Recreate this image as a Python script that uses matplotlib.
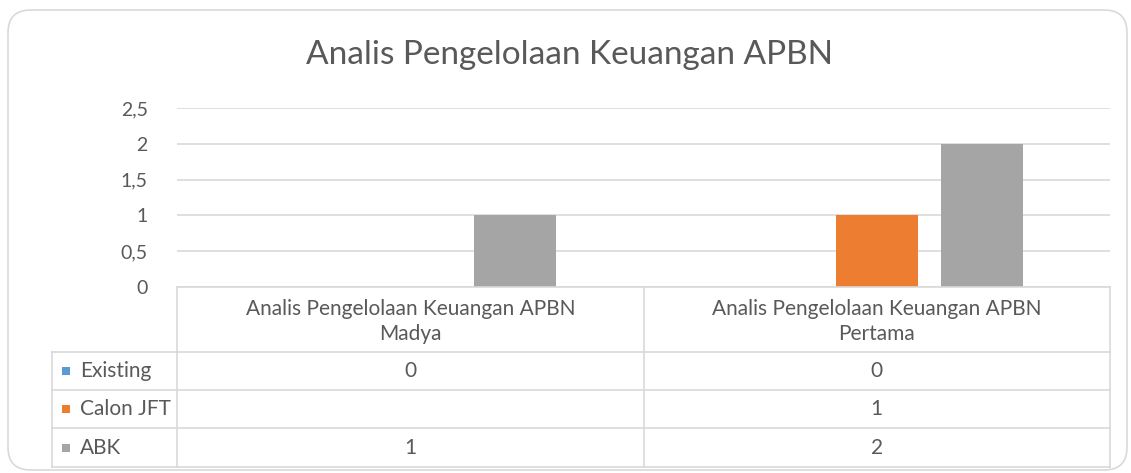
import numpy as np
import matplotlib.pyplot as plt
from matplotlib.patches import FancyBboxPatch, Rectangle
from matplotlib.transforms import blended_transform_factory

plt.rcParams['font.family'] = ['Lato', 'DejaVu Sans']

# data
categories = ['Analis Pengelolaan Keuangan APBN\nMadya',
              'Analis Pengelolaan Keuangan APBN\nPertama']
series = ['Existing', 'Calon JFT', 'ABK']
existing = [0, 0]
calon_jft = [np.nan, 1]
abk = [1, 2]
values = [existing, calon_jft, abk]
colors = ['#5B9BD5', '#ED7D31', '#A5A5A5']

txt = '#595959'
grid = '#D9D9D9'
fs = 15

W, H = 1131, 473
fig = plt.figure(figsize=(W / 100, H / 100), dpi=100)

# outer rounded border
fig.patches.append(FancyBboxPatch((8 / W, 3 / H), 1119 / W, 460 / H,
                                  boxstyle='round,pad=0,rounding_size=0.02',
                                  transform=fig.transFigure, fc='none',
                                  ec=grid, lw=1.2, mutation_aspect=W / H,
                                  zorder=-1))

ax = fig.add_axes([177 / W, 1 - 287 / H, 933 / W, 179 / H])
ax.patch.set_alpha(0)
x = np.arange(len(categories))
bw = 0.176
step = 0.225
for i, (name, vals, col) in enumerate(zip(series, values, colors)):
    ax.bar(x + (i - 1) * step, vals, bw, color=col, zorder=3)

ax.set_xlim(-0.5, len(categories) - 0.5)
ax.set_ylim(0, 2.5)
ax.set_yticks([0, 0.5, 1, 1.5, 2, 2.5])
ax.set_yticklabels(['0', '0,5', '1', '1,5', '2', '2,5'])
ax.tick_params(axis='y', length=0, pad=21, labelsize=14, labelcolor=txt)
ax.set_xticks([])
ax.grid(axis='y', color=grid, lw=1.2, zorder=0)
for s in ax.spines.values():
    s.set_visible(False)

fig.text(570 / W, 1 - 55 / H, 'Analis Pengelolaan Keuangan APBN',
         ha='center', va='center', fontsize=24, color=txt)

# data table below the axis
tr = blended_transform_factory(ax.transData, fig.transFigure)
fy = lambda py: 1 - py / H
top, head_bot = 287, 352
row_lines = [352, 390, 428, 467]
x0, x1 = -0.5, len(categories) - 0.5
xl = -0.5 - 125 / 466  # left edge of label column

def hline(xa, xb, py):
    fig.add_artist(plt.Line2D([xa, xb], [fy(py), fy(py)], transform=tr,
                              color=grid, lw=1.2))

def vline(xv, pa, pb):
    fig.add_artist(plt.Line2D([xv, xv], [fy(pa), fy(pb)], transform=tr,
                              color=grid, lw=1.2))

hline(x0, x1, top)
for py in row_lines:
    hline(xl, x1, py)
vline(xl, row_lines[0], row_lines[-1])
for xv in np.arange(len(categories) + 1) - 0.5:
    vline(xv, top, row_lines[-1])

for xi, cat in zip(x, categories):
    fig.text(xi, fy((top + head_bot) / 2 + 2), cat, transform=tr, ha='center',
             va='center', fontsize=fs, color=txt, linespacing=1.3)

for r, (name, vals, col) in enumerate(zip(series, values, colors)):
    yc = fy((row_lines[r] + row_lines[r + 1]) / 2)
    fig.patches.append(Rectangle((62 / W, yc - 4 / H), 8 / W, 8 / H,
                                 transform=fig.transFigure, fc=col, ec='none'))
    fig.text(80 / W, yc, name, ha='left', va='center', fontsize=fs, color=txt)
    for xi, v in zip(x, vals):
        if not np.isnan(v):
            fig.text(xi, yc, f'{v:g}', transform=tr, ha='center', va='center',
                     fontsize=fs, color=txt)

fig.savefig('out.png', dpi=100)
